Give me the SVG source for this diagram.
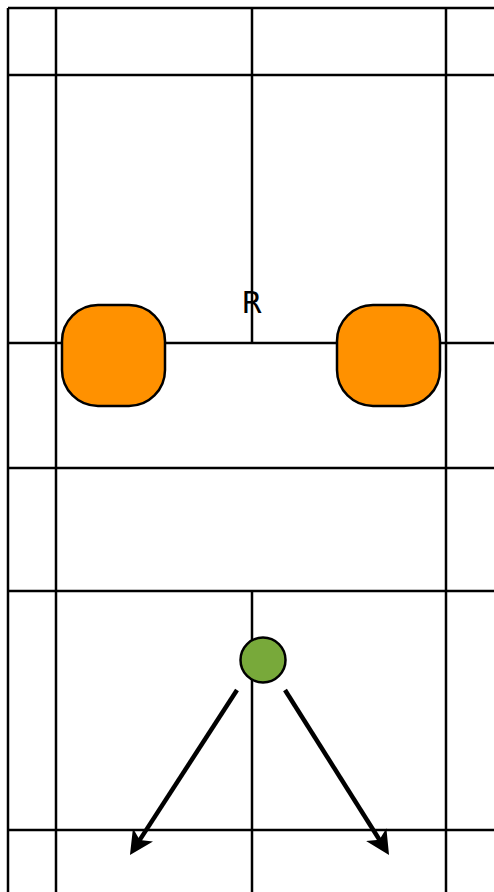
<svg xmlns="http://www.w3.org/2000/svg" width="494" height="892" viewBox="0 0 494 892">
<defs>
<marker id="ah" markerUnits="userSpaceOnUse" viewBox="0 0 24 24" refX="14" refY="12" markerWidth="24" markerHeight="24" orient="auto">
<path d="M0,0 L24,12 L0,24 L6,12 Z" fill="#000"/>
</marker>
</defs>
<rect width="494" height="892" fill="#fff"/>
<g id="court" stroke="#000" stroke-width="2.5" fill="none">
<line x1="8" y1="8" x2="494" y2="8"/>
<line x1="8" y1="8" x2="8" y2="892"/>
<line x1="56" y1="8" x2="56" y2="892"/>
<line x1="446" y1="8" x2="446" y2="892"/>
<line x1="252" y1="8" x2="252" y2="343"/>
<line x1="252" y1="591" x2="252" y2="892"/>
<line x1="8" y1="75" x2="494" y2="75"/>
<line x1="8" y1="343" x2="494" y2="343"/>
<line x1="8" y1="468" x2="494" y2="468"/>
<line x1="8" y1="591" x2="494" y2="591"/>
<line x1="8" y1="830" x2="494" y2="830"/>
</g>
<g id="label-r"><text x="252" y="313" text-anchor="middle" font-family="DejaVu Sans, Liberation Sans, sans-serif" font-size="30" fill="#000">R</text></g>
<g id="player-left"><rect x="62" y="305" width="103" height="101" rx="36" ry="36" fill="#ff9100" stroke="#000" stroke-width="2.5"/></g>
<g id="player-right"><rect x="337" y="305" width="103" height="101" rx="36" ry="36" fill="#ff9100" stroke="#000" stroke-width="2.5"/></g>
<g id="shuttle"><circle cx="263" cy="660" r="22.5" fill="#78a93a" stroke="#000" stroke-width="2.5"/></g>
<g id="connectors" stroke="#000" stroke-width="4.5" fill="none">
<line x1="237" y1="690" x2="135.4" y2="846.6" marker-end="url(#ah)"/>
<line x1="285" y1="690" x2="383.7" y2="846.5" marker-end="url(#ah)"/>
</g>
</svg>
